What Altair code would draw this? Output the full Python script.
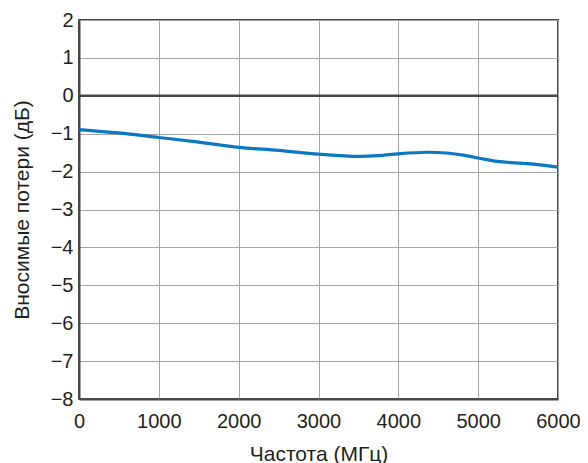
import altair as alt
import pandas as pd

freq = [0, 500, 1000, 1500, 2000, 2500, 3000, 3500, 3750, 4000, 4370, 4600, 4790, 5000, 5240, 5620, 6000]
loss = [-0.89, -0.98, -1.10, -1.22, -1.36, -1.44, -1.54, -1.60, -1.58, -1.53, -1.49, -1.51, -1.56, -1.64, -1.73, -1.79, -1.88]
x_ticks = [0, 1000, 2000, 3000, 4000, 5000, 6000]
y_ticks = [2, 1, 0, -1, -2, -3, -4, -5, -6, -7, -8]

df = pd.DataFrame({"f": freq, "l": loss})
zero = pd.DataFrame({"l": [0]})

FONT = "Liberation Sans"
DARK = "#4a4746"

x = alt.X("f:Q", scale=alt.Scale(domain=[0, 6000], nice=False),
          axis=alt.Axis(title="Частота (МГц)", values=x_ticks, format="d"))
y = alt.Y("l:Q", scale=alt.Scale(domain=[-8, 2], nice=False),
          axis=alt.Axis(title="Вносимые потери (дБ)", values=y_ticks, format="d",
                        tickCount=11))

rule = alt.Chart(zero).mark_rule(color=DARK, strokeWidth=2.6).encode(y=y)
line = alt.Chart(df).mark_line(color="#0a78c2", strokeWidth=3.2, interpolate="monotone").encode(x=x, y=y)

chart = (rule + line).properties(
    width=479, height=379,
    autosize=alt.AutoSizeParams(type="none"),
    padding={"left": 71, "top": 12, "right": 22, "bottom": 64},
).configure_view(
    stroke=DARK, strokeWidth=2
).configure_axis(
    labelFont=FONT, titleFont=FONT, labelFontSize=20, titleFontSize=21,
    labelColor="#231f20", titleColor="#231f20", titleFontWeight="normal",
    grid=True, gridColor="#a4a4a4", gridWidth=1, gridOpacity=1,
    domain=True, domainColor=DARK, domainWidth=2,
    ticks=False, labelPadding=6, labelOverlap=False, labelFlush=False,
).configure_axisX(
    titlePadding=12, labelPadding=12
).configure_axisY(
    titlePadding=18
)

chart.save("out.html", embed_options={"renderer": "svg", "actions": False})
